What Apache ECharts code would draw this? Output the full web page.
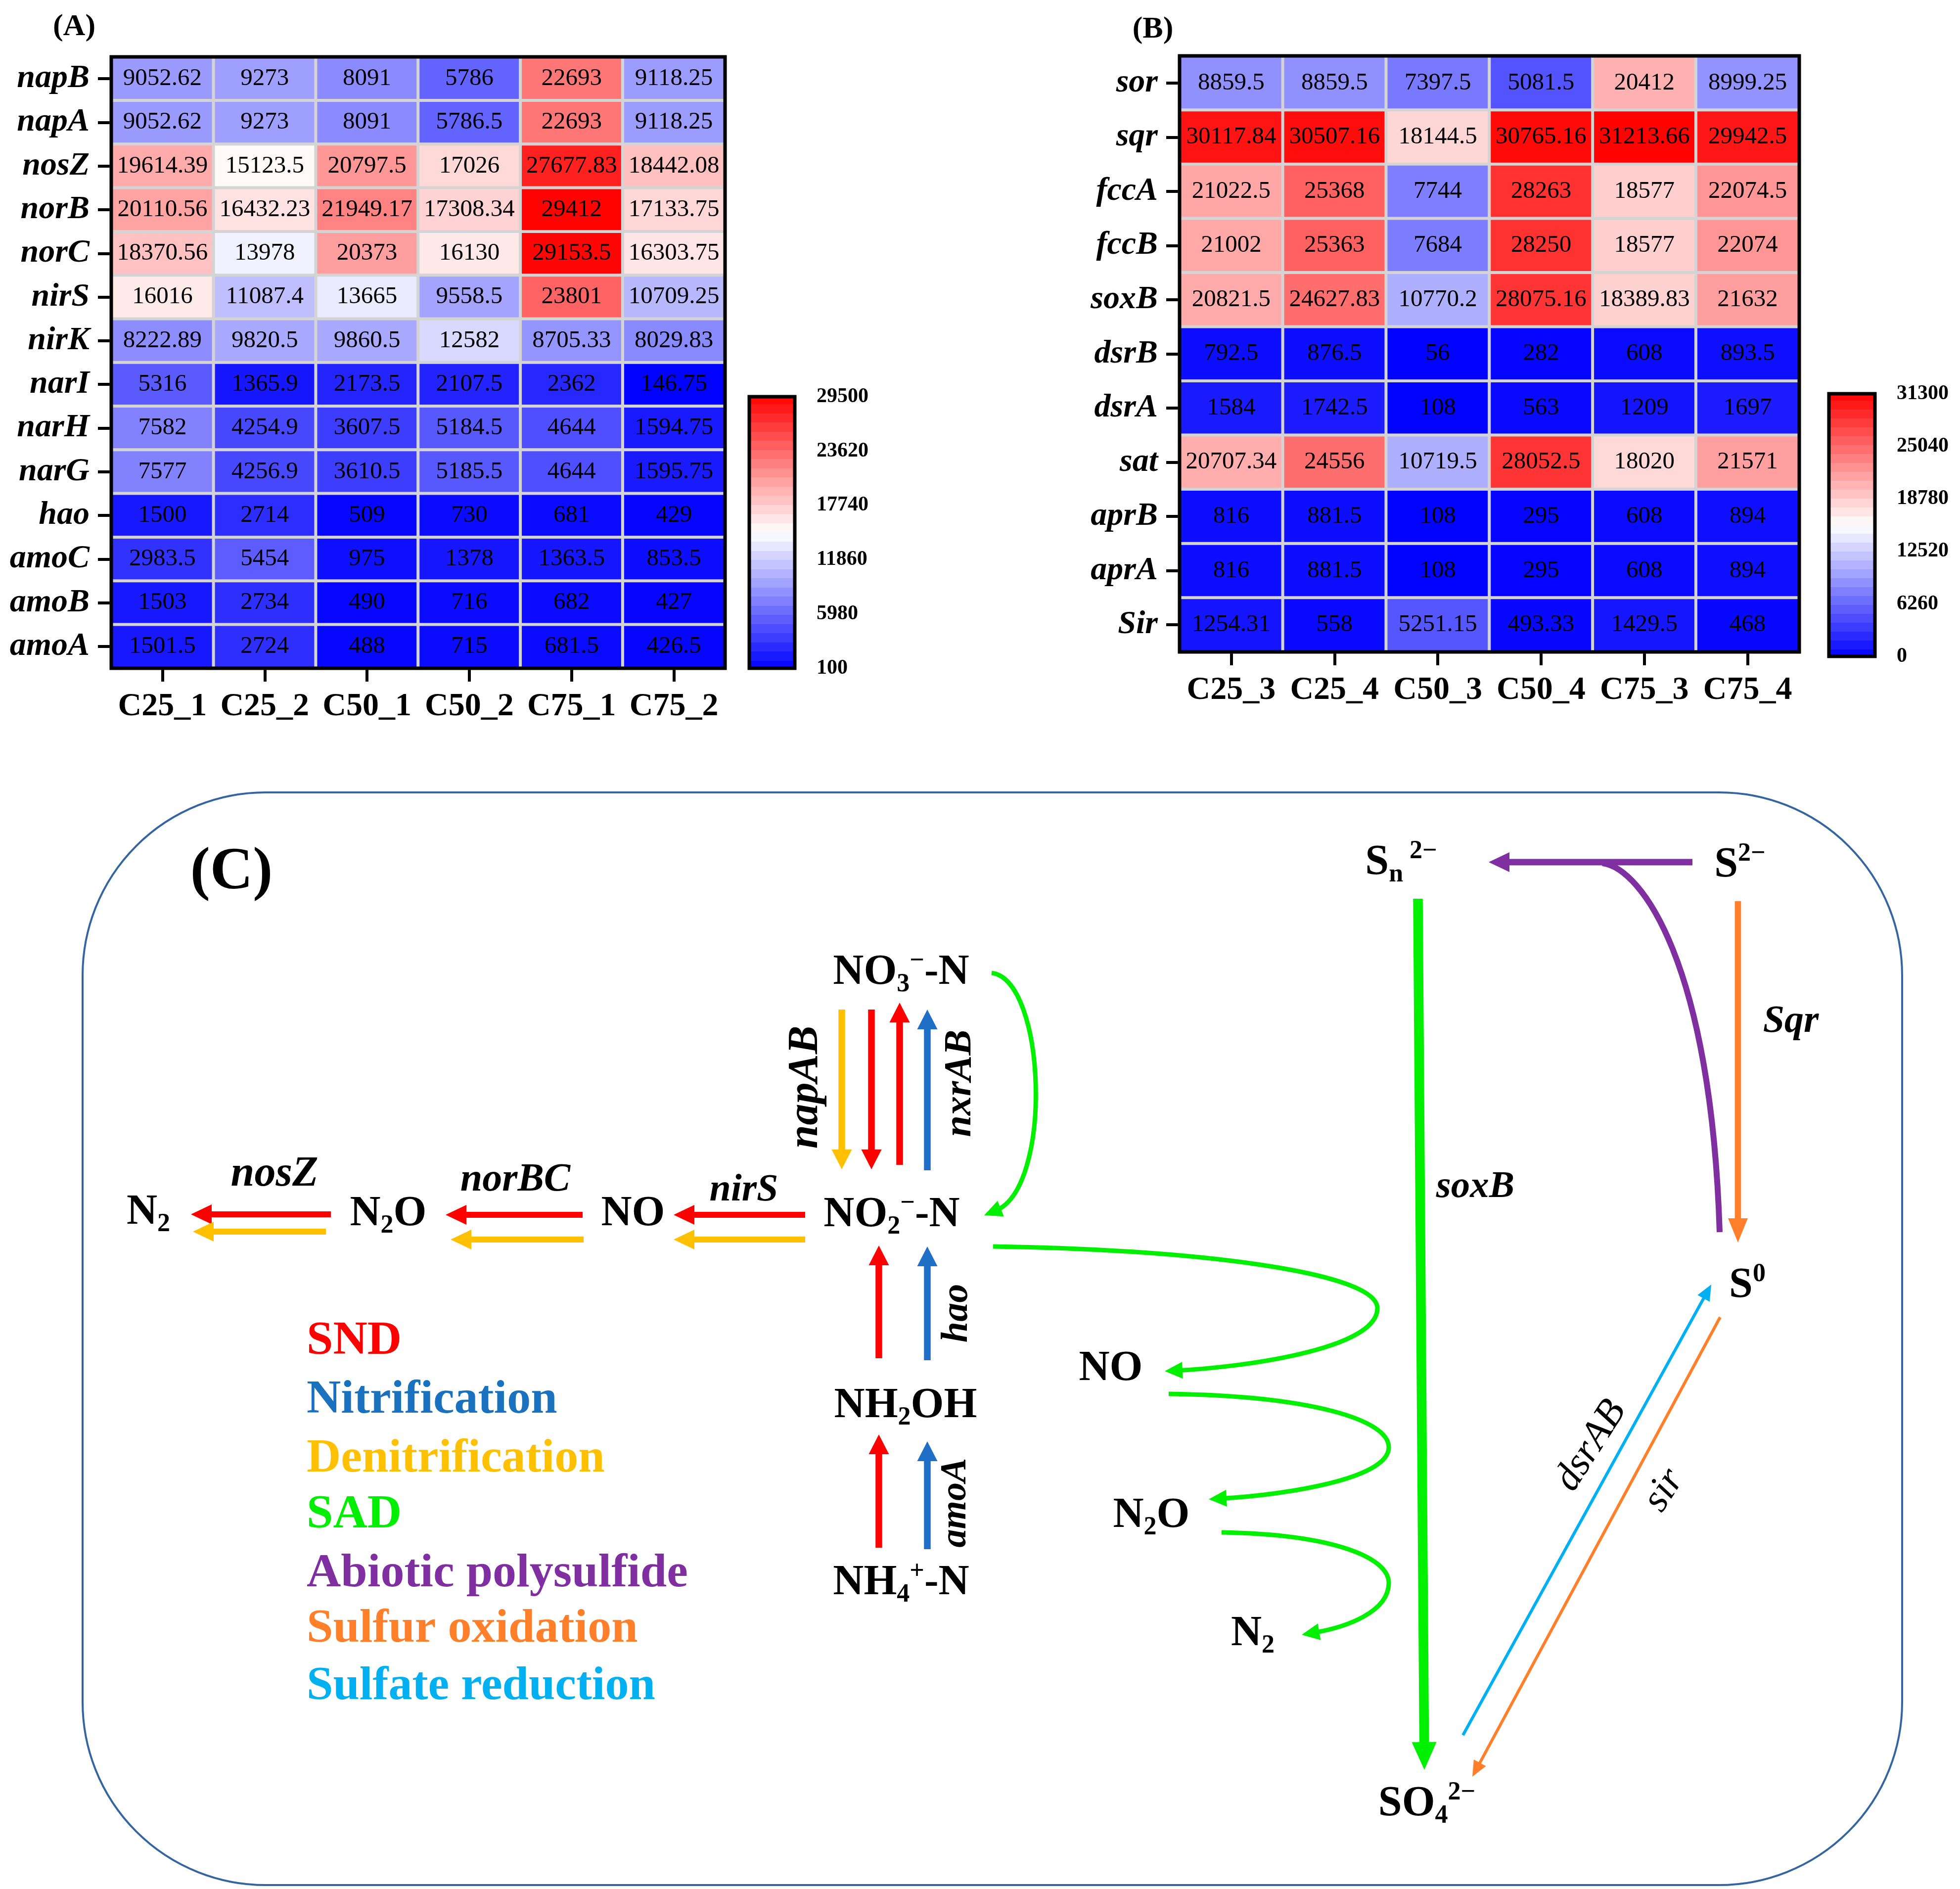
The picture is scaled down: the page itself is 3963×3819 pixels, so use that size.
<!DOCTYPE html>
<html><head><meta charset="utf-8">
<script src="https://cdn.jsdelivr.net/npm/echarts@6/dist/echarts.min.js"></script>
<style>html,body{margin:0;padding:0;background:#fff}#c{width:3963px;height:3819px}</style>
</head><body><div id="c"></div>
<script>
// ---------- DATA ----------
const colsA = ['C25_1','C25_2','C50_1','C50_2','C75_1','C75_2'];
const genesA = ['napB','napA','nosZ','norB','norC','nirS','nirK','narI','narH','narG','hao','amoC','amoB','amoA'];
const A_napB = [9052.62, 9273, 8091, 5786, 22693, 9118.25];
const A_napA = [9052.62, 9273, 8091, 5786.5, 22693, 9118.25];
const A_nosZ = [19614.39, 15123.5, 20797.5, 17026, 27677.83, 18442.08];
const A_norB = [20110.56, 16432.23, 21949.17, 17308.34, 29412, 17133.75];
const A_norC = [18370.56, 13978, 20373, 16130, 29153.5, 16303.75];
const A_nirS = [16016, 11087.4, 13665, 9558.5, 23801, 10709.25];
const A_nirK = [8222.89, 9820.5, 9860.5, 12582, 8705.33, 8029.83];
const A_narI = [5316, 1365.9, 2173.5, 2107.5, 2362, 146.75];
const A_narH = [7582, 4254.9, 3607.5, 5184.5, 4644, 1594.75];
const A_narG = [7577, 4256.9, 3610.5, 5185.5, 4644, 1595.75];
const A_hao  = [1500, 2714, 509, 730, 681, 429];
const A_amoC = [2983.5, 5454, 975, 1378, 1363.5, 853.5];
const A_amoB = [1503, 2734, 490, 716, 682, 427];
const A_amoA = [1501.5, 2724, 488, 715, 681.5, 426.5];
const rowsA = [A_napB, A_napA, A_nosZ, A_norB, A_norC, A_nirS, A_nirK, A_narI, A_narH, A_narG, A_hao, A_amoC, A_amoB, A_amoA];
const ticksA = ['100','5980','11860','17740','23620','29500'];

const colsB = ['C25_3','C25_4','C50_3','C50_4','C75_3','C75_4'];
const genesB = ['sor','sqr','fccA','fccB','soxB','dsrB','dsrA','sat','aprB','aprA','Sir'];
const B_sor  = [8859.5, 8859.5, 7397.5, 5081.5, 20412, 8999.25];
const B_sqr  = [30117.84, 30507.16, 18144.5, 30765.16, 31213.66, 29942.5];
const B_fccA = [21022.5, 25368, 7744, 28263, 18577, 22074.5];
const B_fccB = [21002, 25363, 7684, 28250, 18577, 22074];
const B_soxB = [20821.5, 24627.83, 10770.2, 28075.16, 18389.83, 21632];
const B_dsrB = [792.5, 876.5, 56, 282, 608, 893.5];
const B_dsrA = [1584, 1742.5, 108, 563, 1209, 1697];
const B_sat  = [20707.34, 24556, 10719.5, 28052.5, 18020, 21571];
const B_aprB = [816, 881.5, 108, 295, 608, 894];
const B_aprA = [816, 881.5, 108, 295, 608, 894];
const B_Sir  = [1254.31, 558, 5251.15, 493.33, 1429.5, 468];
const rowsB = [B_sor, B_sqr, B_fccA, B_fccB, B_soxB, B_dsrB, B_dsrA, B_sat, B_aprB, B_aprA, B_Sir];
const ticksB = ['0','6260','12520','18780','25040','31300'];

// ---------- STYLE HELPERS ----------
const FF = "'Liberation Serif','Times New Roman',serif";
function cellData(rows){ const d=[]; rows.forEach((r,ri)=>r.forEach((v,ci)=>d.push([ci,ri,v]))); return d; }
function bwr(t){
  let r,g,b;
  if(t<0.5){ const k=t/0.5; r=g=Math.round(255*k); b=255; }
  else { const k=(t-0.5)/0.5; r=255; g=b=Math.round(255*(1-k)); }
  return 'rgb('+r+','+g+','+b+')';
}
function stepGrad(n){
  const stops=[];
  for(let i=0;i<n;i++){ const c=bwr((i+0.5)/n); stops.push({offset:i/n,color:c}); stops.push({offset:(i+1)/n,color:c}); }
  return {type:'linear', x:0, y:1, x2:0, y2:0, colorStops:stops, global:false};
}
const tickStyle = {color:'#000', width:6};
function catX(gi, data){ return {gridIndex:gi, type:'category', data, position:'bottom',
  axisLine:{show:false}, axisTick:{show:true, alignWithLabel:true, length:27, lineStyle:tickStyle},
  axisLabel:{interval:0, margin:45, color:'#000', fontFamily:FF, fontWeight:'bold', fontSize:66}, splitLine:{show:false}}; }
function catY(gi, data){ return {gridIndex:gi, type:'category', data, inverse:true,
  axisLine:{show:false}, axisTick:{show:true, alignWithLabel:true, length:27, lineStyle:tickStyle},
  axisLabel:{interval:0, margin:44, color:'#000', fontFamily:FF, fontWeight:'bold', fontStyle:'italic', fontSize:66}, splitLine:{show:false}}; }
function barY(gi, data){ return {gridIndex:gi, type:'category', data, boundaryGap:false, position:'right',
  axisLine:{show:false}, axisTick:{show:true, interval:0, length:26, lineStyle:tickStyle},
  axisLabel:{interval:0, margin:44, color:'#000', fontFamily:FF, fontWeight:'bold', fontSize:42}, splitLine:{show:false}}; }
function heat(xi, rows){ return {type:'heatmap', xAxisIndex:xi, yAxisIndex:xi, data:cellData(rows), z:2,
  itemStyle:{borderColor:'#d4d4d4', borderWidth:6},
  label:{show:true, color:'#000', fontFamily:FF, fontSize:49, formatter:p=>String(p.value[2])},
  emphasis:{disabled:true}}; }

// ---------- DIAGRAM HELPERS ----------
function arrow(x1,y1,x2,y2,color,w,hl,hw){
  const dx=x2-x1, dy=y2-y1, L=Math.hypot(dx,dy), ux=dx/L, uy=dy/L, px=-uy, py=ux;
  const bx=x2-ux*hl, by=y2-uy*hl;
  return [
    {type:'line', z:20, shape:{x1,y1,x2:bx+ux*2,y2:by+uy*2}, style:{stroke:color,lineWidth:w}},
    {type:'polygon', z:21, shape:{points:[[x2,y2],[bx+px*hw/2,by+py*hw/2],[bx-px*hw/2,by-py*hw/2]]}, style:{fill:color}}
  ];
}
function curve(start, segs, color, w, head){
  const last=segs[segs.length-1], tip=last[2], c2=last[1];
  const dx=tip[0]-c2[0], dy=tip[1]-c2[1], L=Math.hypot(dx,dy), ux=dx/L, uy=dy/L;
  const out=[];
  let p=start;
  segs.forEach((s,i)=>{
    let e=s[2];
    if(head && i===segs.length-1) e=[tip[0]-ux*head[0]*0.7, tip[1]-uy*head[0]*0.7];
    out.push({type:'bezierCurve', z:20, shape:{x1:p[0],y1:p[1],cpx1:s[0][0],cpy1:s[0][1],cpx2:s[1][0],cpy2:s[1][1],x2:e[0],y2:e[1]},
      style:{stroke:color, fill:null, lineWidth:w}});
    p=s[2];
  });
  if(head){
    const hl=head[0], hw=head[1], px=-uy, py=ux, bx=tip[0]-ux*hl, by=tip[1]-uy*hl;
    out.push({type:'polygon', z:21, shape:{points:[[tip[0],tip[1]],[bx+px*hw/2,by+py*hw/2],[bx-px*hw/2,by-py*hw/2]]}, style:{fill:color}});
  }
  return out;
}
function txt(text,x,y,size,o){ o=o||{};
  return {type:'text', x, y, rotation:o.rot||0, z:50, style:{text, fill:o.color||'#000', fontSize:size, fontFamily:FF,
    fontWeight:o.weight||'bold', fontStyle:o.italic?'italic':'normal', align:o.align||'center', verticalAlign:'middle'}};
}
function chem(markup,x,y,F){
  const fs=Math.round(F*0.6), L=F*1.16;
  return {type:'text', x, y, z:50, style:{text:markup, fill:'#000', align:'center', verticalAlign:'middle', fontSize:F, fontFamily:FF, fontWeight:'bold',
    rich:{ m:{fontSize:F, lineHeight:L, fontFamily:FF, fontWeight:'bold'},
           b:{fontSize:fs, lineHeight:L-0.68*F, verticalAlign:'bottom', fontFamily:FF, fontWeight:'bold'},
           p:{fontSize:fs, lineHeight:L-0.4*F, verticalAlign:'top', fontFamily:FF, fontWeight:'bold'} }}};
}

const RED='#ff0000', YEL='#ffc000', BLU='#1f6fc6', GRN='#00f000', PUR='#7f2fa0', ORG='#ff7f2a', CYN='#00b0f0';
const F=86;
const els = [].concat(
  [{type:'rect', z:5, shape:{x:167,y:1602,width:3679,height:2209,r:370}, style:{fill:null, stroke:'#3465a0', lineWidth:4}}],
  [txt('(A)',150,55,62), txt('(B)',2331,60,62), txt('(C)',468,1765,120)],
  arrow(1702,2041,1702,2364,YEL,13.5,40,41),
  arrow(1762,2041,1762,2364,RED,13.5,40,41),
  arrow(1819,2355,1819,2027,RED,13.5,40,41),
  arrow(1875,2366,1875,2041,BLU,13.5,40,41),
  arrow(1777,2746,1777,2518,RED,13.5,40,41),
  arrow(1875,2750,1875,2520,BLU,13.5,40,41),
  arrow(1777,3129,1777,2900,RED,13.5,40,41),
  arrow(1875,3132,1875,2914,BLU,13.5,40,41),
  arrow(669,2455,386,2455,RED,12,42,40),
  arrow(659,2490,390,2490,YEL,12,42,40),
  arrow(1178,2456,901,2456,RED,12,42,40),
  arrow(1180,2506,911,2506,YEL,12,42,40),
  arrow(1628,2456,1362,2456,RED,12,42,40),
  arrow(1628,2506,1362,2506,YEL,12,42,40),
  curve([2005,1967],[[[2115,1980],[2130,2400],[1990,2457]]],GRN,9,[36,34]),
  curve([2008,2520],[[[2400,2525],[2785,2570],[2785,2645]],[[2785,2730],[2500,2765],[2355,2772]]],GRN,9,[36,34]),
  curve([2363,2818],[[[2650,2822],[2808,2870],[2808,2926]],[[2808,2990],[2600,3022],[2444,3031]]],GRN,9,[36,34]),
  curve([2470,3098],[[[2700,3102],[2808,3150],[2808,3200]],[[2808,3260],[2720,3290],[2632,3305]]],GRN,9,[36,34]),
  arrow(3422,1743,3010,1743,PUR,13,42,40),
  curve([3240,1745],[[[3320,1755],[3460,1950],[3477,2491]]],PUR,12,null),
  arrow(3514,1822,3514,2512,ORG,12.6,49,40),
  arrow(2867,1817,2880,3578,GRN,19.5,56,50),
  arrow(2958,3508,3460,2597,CYN,6,32,28),
  arrow(3478,2663,2977,3592,ORG,6,32,28),
  [chem('{m|N}{b|2}',300,2452,F), chem('{m|N}{b|2}{m|O}',785,2455,F), chem('{m|NO}',1280,2455,F),
   chem('{m|NO}{b|3}{p|−}{m|-N}',1822,1967,F), chem('{m|NO}{b|2}{p|−}{m|-N}',1803,2457,F),
   chem('{m|NH}{b|2}{m|OH}',1831,2843,F), chem('{m|NH}{b|4}{p|+}{m|-N}',1822,3201,F),
   chem('{m|NO}',2246,2768,F), chem('{m|N}{b|2}{m|O}',2328,3065,F), chem('{m|N}{b|2}',2533,3304,F),
   chem('{m|S}{b|n}{p| 2−}',2833,1745,F), chem('{m|S}{p|2−}',3518,1750,F), chem('{m|S}{p|0}',3533,2600,F),
   chem('{m|SO}{b|4}{p|2−}',2885,3648,F)],
  [txt('napAB',1630,2198,86,{italic:true,rot:Math.PI/2}), txt('nxrAB',1942,2190,78,{italic:true,rot:Math.PI/2}),
   txt('hao',1935,2655,76,{italic:true,rot:Math.PI/2}), txt('amoA',1933,3038,74,{italic:true,rot:Math.PI/2}),
   txt('nosZ',555,2375,86,{italic:true}), txt('norBC',1042,2386,80,{italic:true}), txt('nirS',1504,2407,78,{italic:true}),
   txt('soxB',2983,2400,77,{italic:true}), txt('Sqr',3621,2066,78,{italic:true}),
   txt('dsrAB',3217,2923,80,{italic:true,weight:'normal',rot:1.0}), txt('sir',3365,3013,80,{italic:true,weight:'normal',rot:1.0})],
  [txt('SND',620,2712,96,{align:'left',color:RED}), txt('Nitrification',620,2831,96,{align:'left',color:'#1a72bf'}),
   txt('Denitrification',620,2950,96,{align:'left',color:YEL}), txt('SAD',620,3063,96,{align:'left',color:'#00ee00'}),
   txt('Abiotic polysulfide',620,3182,96,{align:'left',color:PUR}), txt('Sulfur oxidation',620,3294,96,{align:'left',color:ORG}),
   txt('Sulfate reduction',620,3410,96,{align:'left',color:CYN})]
);

const chart = echarts.init(document.getElementById('c'), null, {renderer:'canvas', devicePixelRatio:1});
chart.setOption({
  backgroundColor:'#fff',
  animation:false,
  grid:[
    {left:225, top:115, width:1241, height:1236, show:true, borderColor:'#000', borderWidth:7, backgroundColor:'rgba(0,0,0,0)', z:10},
    {left:2385, top:113, width:1253, height:1205, show:true, borderColor:'#000', borderWidth:7, backgroundColor:'rgba(0,0,0,0)', z:10},
    {left:1515, top:802, width:92, height:549, show:true, borderColor:'#000', borderWidth:7, backgroundColor:stepGrad(30), z:10},
    {left:3698, top:796, width:93, height:531, show:true, borderColor:'#000', borderWidth:7, backgroundColor:stepGrad(30), z:10}
  ],
  xAxis:[catX(0,colsA), catX(1,colsB), {gridIndex:2,type:'value',show:false}, {gridIndex:3,type:'value',show:false}],
  yAxis:[catY(0,genesA), catY(1,genesB), barY(2,ticksA), barY(3,ticksB)],
  visualMap:[
    {type:'continuous', show:false, seriesIndex:0, dimension:2, min:Number(ticksA[0]), max:Number(ticksA[ticksA.length-1]), inRange:{color:['#0000ff','#ffffff','#ff0000']}},
    {type:'continuous', show:false, seriesIndex:1, dimension:2, min:Number(ticksB[0]), max:Number(ticksB[ticksB.length-1]), inRange:{color:['#0000ff','#ffffff','#ff0000']}}
  ],
  series:[heat(0,rowsA), heat(1,rowsB)],
  graphic:{elements:els}
});
</script></body></html>
